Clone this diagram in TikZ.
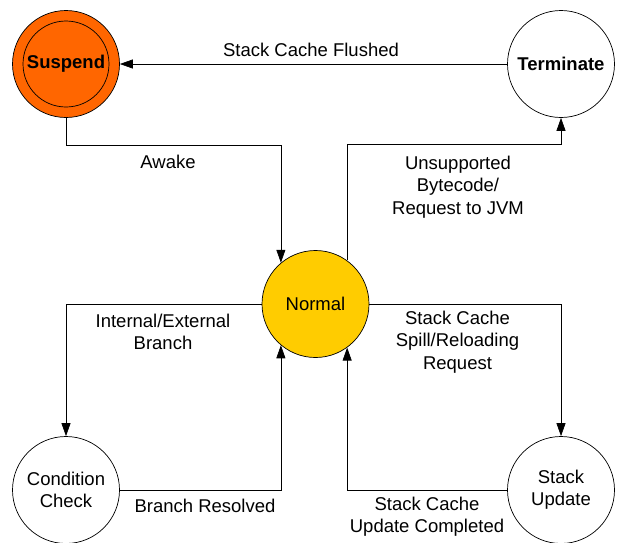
\documentclass[tikz,border=0pt]{standalone}
\usepackage{fontspec}
\setmainfont{Liberation Sans}
\usetikzlibrary{arrows.meta}
\definecolor{suspendorange}{HTML}{FF6600}
\definecolor{normalyellow}{HTML}{FFCC00}
\tikzset{
  state/.style={draw, line width=0.7pt, circle, inner sep=0pt, minimum size=107pt, align=center},
  flow/.style={line width=0.7pt, -{Triangle[length=13pt,width=9pt]}},
  lbl/.style={align=center, inner sep=0pt}
}
\begin{document}
\begin{tikzpicture}[x=1pt,y=-1pt,font=\fontsize{18.5}{22.3}\selectfont]
    \useasboundingbox (0,0) rectangle (618,542);

    % The states
    \node[state, fill=suspendorange] (suspend) at (66,64) {};
    \node[state, minimum size=86pt] (suspendin) at (suspend) {\textbf{Suspend}};
    \node[state] (terminate) at (561,64) {\textbf{Terminate}};
    \node[state, fill=normalyellow] (normal) at (315.5,304) {Normal};
    \node[state] (condition) at (66,490) {Condition\\Check};
    \node[state] (stackupd) at (561,490) {Stack\\Update};

    % Transitions
    \draw[flow] (terminate) -- (suspend);
    \draw[flow] (suspend.south) -- ([yshift=-27pt]suspend.south) -| (normal.130);
    \draw[flow] (normal.54) |- ([yshift=-26pt]terminate.south) -- (terminate.south);
    \draw[flow] (normal.west) -| (condition.north);
    \draw[flow] (normal.east) -| (stackupd.north);
    \draw[flow] (condition.east) -| (normal.-130);
    \draw[flow] (stackupd.west) -| (normal.-54);

    % Labels of the transitions
    \node[lbl] (flushed) at (311,50) {Stack Cache Flushed};
    \node[lbl] (awake) at (168,162) {Awake};
    \node[lbl] (unsupported) at (458,187) {Unsupported\\Bytecode/\\Request to JVM};
    \node[lbl] (branch) at (163,332) {Internal/External\\Branch};
    \node[lbl] (spill) at (457.5,342) {Stack Cache\\Spill/Reloading\\Request};
    \node[lbl] (resolved) at (205,506) {Branch Resolved};
    \node[lbl] (completed) at (427,517) {Stack Cache\\Update Completed};
\end{tikzpicture}
\end{document}
